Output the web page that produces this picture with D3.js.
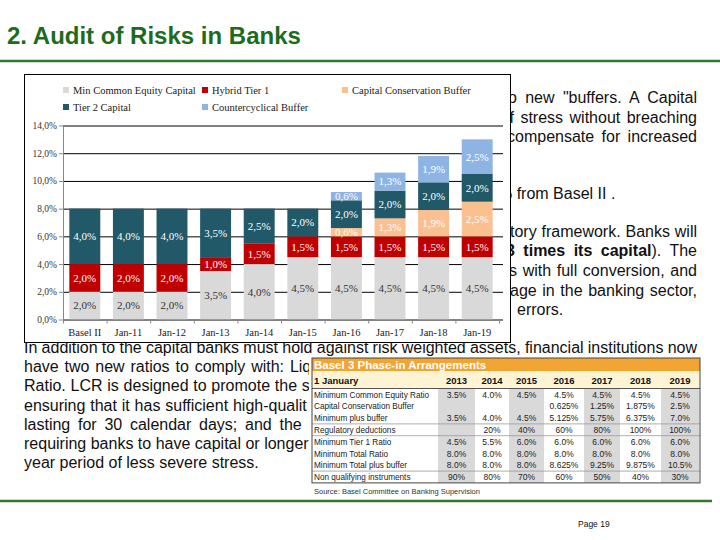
<!DOCTYPE html>
<html><head><meta charset="utf-8">
<script src="https://cdn.jsdelivr.net/npm/d3@7"></script>
<style>body{margin:0;background:#fff} svg{display:block} text{white-space:pre}</style>
</head><body>
<svg id="c" width="720" height="540"></svg>
<script>
// ---------- chart data ----------
const categories = ["Basel II","Jan-11","Jan-12","Jan-13","Jan-14","Jan-15","Jan-16","Jan-17","Jan-18","Jan-19"];
const minCommonEquity       = [2.0,2.0,2.0,3.5,4.0,4.5,4.5,4.5,4.5,4.5];
const hybridTier1           = [2.0,2.0,2.0,1.0,1.5,1.5,1.5,1.5,1.5,1.5];
const conservationBuffer    = [0,0,0,0,0,0,0.6,1.3,1.9,2.5];
const tier2Capital          = [4.0,4.0,4.0,3.5,2.5,2.0,2.0,2.0,2.0,2.0];
const countercyclicalBuffer = [0,0,0,0,0,0,0.6,1.3,1.9,2.5];
const seriesNames = ["Min Common Equity Capital","Hybrid Tier 1","Capital Conservation Buffer","Tier 2 Capital","Countercyclical Buffer"];
const seriesColors = ["#d9d9d9","#c00000","#fac090","#215968","#8eb4e3"];
const yTicks = [0,2,4,6,8,10,12,14];

// ---------- table data ----------
const tableTitle = "Basel 3 Phase-in Arrangements";
const tableHeader = "1 January";
const tableYears = ["2013","2014","2015","2016","2017","2018","2019"];
const rowLabels = ["Minimum Common Equity Ratio","Capital Conservation Buffer","Minimum plus buffer","Regulatory deductions","Minimum Tier 1 Ratio","Minimum Total Ratio","Minimum Total plus buffer","Non qualifying instruments"];
const minCommonEquityRatio      = ["3.5%","4.0%","4.5%","4.5%","4.5%","4.5%","4.5%"];
const capitalConservationBuffer = ["","","","0.625%","1.25%","1.875%","2.5%"];
const minimumPlusBuffer         = ["3.5%","4.0%","4.5%","5.125%","5.75%","6.375%","7.0%"];
const regulatoryDeductions      = ["","20%","40%","60%","80%","100%","100%"];
const minimumTier1Ratio         = ["4.5%","5.5%","6.0%","6.0%","6.0%","6.0%","6.0%"];
const minimumTotalRatio         = ["8.0%","8.0%","8.0%","8.0%","8.0%","8.0%","8.0%"];
const minimumTotalPlusBuffer    = ["8.0%","8.0%","8.0%","8.625%","9.25%","9.875%","10.5%"];
const nonQualifyingInstruments  = ["90%","80%","70%","60%","50%","40%","30%"];
const tableSource = "Source: Basel Committee on Banking Supervision";

// ---------- slide text (visible parts) ----------
const pageTitle = "2. Audit of Risks in Banks";
const pageNumber = "Page 19";
const upperText = [
  [['o new "buffers. A Capital']],
  [['f stress without breaching']],
  [['compensate for increased']],
  [['% from Basel II .']],
  [['tory framework. Banks will']],
  [['3 times its capital',1],['). The']],
  [['s with full conversion, and']],
  [['age in the banking sector,']],
  [['errors.']]
];
const lowerText = [
  "In addition to the capital banks must hold against risk weighted assets, financial institutions now",
  "have two new ratios to comply with: Liq",
  "Ratio. LCR is designed to promote the s",
  "ensuring that it has sufficient high-qualit",
  "lasting for 30 calendar days; and the",
  "requiring banks to have capital or longer",
  "year period of less severe stress."
];

const svg = d3.select("#c");
const SANS = "'Liberation Sans', Arial, sans-serif";
const SERIF = "'Liberation Serif', 'Times New Roman', serif";

const defs = svg.append("defs");
defs.append("clipPath").attr("id","clipLeft").append("rect").attr("x",0).attr("y",0).attr("width",309).attr("height",540);
defs.append("clipPath").attr("id","clipRight").append("rect").attr("x",511).attr("y",0).attr("width",209).attr("height",540);

// header
svg.append("text").attr("x",7).attr("y",44).text(pageTitle)
  .attr("font-family",SANS).attr("font-weight","bold").attr("font-size",24).attr("fill","#1d6b1d");
svg.append("line").attr("x1",0).attr("x2",720).attr("y1",61).attr("y2",61).attr("stroke","#2f7a2f").attr("stroke-width",2.5);

// body text
function drawLine(parent, parts, x, y, right, ws) {
  const t = parent.append("text").attr("x",x).attr("y",y)
    .attr("font-family",SANS).attr("font-size",16).attr("fill","#111");
  parts.forEach(p => t.append("tspan").attr("font-weight", p[1] ? "bold" : null).text(p[0]));
  if (right != null) {
    const L = t.node().getComputedTextLength();
    const n = parts.map(p=>p[0]).join("").split(" ").length - 1;
    if (n > 0) t.attr("word-spacing", (right - x - L) / n);
  } else if (ws) t.attr("word-spacing", ws);
}
const upperG = svg.append("g").attr("clip-path","url(#clipRight)");
const upperPos = [[508,103,697],[509.5,123,697],[507,142,697],[498,199,null],[510,237,697],[506,256,697],[509,276,697],[510,296,697],[517,315,null]];
upperText.forEach((parts,i)=>drawLine(upperG, parts, upperPos[i][0], upperPos[i][1], upperPos[i][2]));
const lowerY = [353,372,391,411,430,449,468];
const lowerWs = [null,1.4,0.3,0.4,3.3,0,0];
const lowerG0 = svg.append("g");
const lowerG = svg.append("g").attr("clip-path","url(#clipLeft)");
lowerText.forEach((s,i)=>drawLine(i===0 ? lowerG0 : lowerG, [[s]], 24, lowerY[i], i===0 ? 697 : null, lowerWs[i]));

// ---------- chart ----------
svg.append("rect").attr("x",24.5).attr("y",74.5).attr("width",486).attr("height",268)
  .attr("fill","#fff").attr("stroke","#000").attr("stroke-width",1);

const x = d3.scaleBand().domain(categories).range([63,499]).paddingInner(0.29).paddingOuter(0.145);
const y = d3.scaleLinear().domain([0,14]).range([319.5,125.5]);
const g = svg.append("g");

// gridlines
const grid = g.append("g").attr("transform","translate(63,0)")
  .call(d3.axisLeft(y).tickValues(yTicks).tickSize(-440).tickFormat(""));
grid.select(".domain").remove();
grid.selectAll("line").attr("stroke","#000").attr("stroke-width",1);

// stacked bars
const rows = categories.map((c,i)=>({cat:c, s0:minCommonEquity[i], s1:hybridTier1[i], s2:conservationBuffer[i], s3:tier2Capital[i], s4:countercyclicalBuffer[i]}));
const keys = ["s0","s1","s2","s3","s4"];
const stacked = d3.stack().keys(keys)(rows);
stacked.forEach((layer,k)=>{
  const lg = g.append("g");
  layer.forEach(d=>{
    const v = d[1]-d[0];
    if (v <= 0) return;
    lg.append("rect").attr("x",x(d.data.cat)).attr("width",x.bandwidth())
      .attr("y",y(d[1])).attr("height",y(d[0])-y(d[1])).attr("fill",seriesColors[k]);
    lg.append("text").attr("x",x(d.data.cat)+x.bandwidth()/2).attr("y",(y(d[0])+y(d[1]))/2)
      .attr("dy","0.35em").attr("text-anchor","middle")
      .attr("font-family",SERIF).attr("font-size",11)
      .attr("fill", k===0 ? "#333" : "#fff")
      .text(v.toFixed(1).replace(".",",")+"%");
  });
});

// y axis
const ya = g.append("g").attr("transform","translate(63,0)")
  .call(d3.axisLeft(y).tickValues(yTicks).tickSize(4).tickSizeOuter(0).tickPadding(2)
    .tickFormat(d=>d.toFixed(1).replace(".",",")+"%"));
ya.select(".domain").attr("stroke","#888");
ya.selectAll("line").attr("stroke","#888");
ya.selectAll("text").attr("font-family",SERIF).attr("font-size",9.5).attr("fill","#333");

// x axis ticks at category boundaries
const xb = d3.scaleLinear().domain([0,categories.length]).range([63,499]);
const xt = g.append("g").attr("transform","translate(0,319.5)")
  .call(d3.axisBottom(xb).tickValues(d3.range(0,categories.length+1)).tickSize(4).tickSizeOuter(0).tickFormat(""));
xt.select(".domain").attr("stroke","#888");
xt.selectAll("line").attr("stroke","#888");
const xa = g.append("g").attr("transform","translate(0,319.5)")
  .call(d3.axisBottom(x).tickSize(0).tickPadding(9));
xa.select(".domain").remove();
xa.selectAll("text").attr("font-family",SERIF).attr("font-size",10.5).attr("fill","#222");

// legend
const legendPos = [[63,90],[202,90],[342,90],[63,107],[202,107]];
seriesNames.forEach((n,i)=>{
  const [lx,ly] = legendPos[i];
  g.append("rect").attr("x",lx).attr("y",ly-3).attr("width",6).attr("height",6).attr("fill",seriesColors[i]);
  g.append("text").attr("x",lx+10).attr("y",ly).attr("dy","0.35em").text(n)
    .attr("font-family",SERIF).attr("font-size",10.5).attr("fill","#222");
});

// ---------- table ----------
svg.append("rect").attr("x",309).attr("y",356).attr("width",411).attr("height",142).attr("fill","#fff");
const tb = svg.append("g");
const tX0 = 312, tX1 = 700, tTop = 358, hdrBottom = 371, yearsBottom = 388.5, rowH = 11.8;
const colEdges = [437,476,508,545,583,621,660,700];
const tableData = [minCommonEquityRatio,capitalConservationBuffer,minimumPlusBuffer,regulatoryDeductions,minimumTier1Ratio,minimumTotalRatio,minimumTotalPlusBuffer,nonQualifyingInstruments];
const tBottom = yearsBottom + rowH*tableData.length;

tb.append("rect").attr("x",tX0).attr("y",tTop).attr("width",tX1-tX0).attr("height",hdrBottom-tTop).attr("fill","#f2a532");
tb.append("text").attr("x",tX0+2).attr("y",hdrBottom-2.5).text(tableTitle)
  .attr("font-family",SANS).attr("font-weight","bold").attr("font-size",11.5).attr("fill","#fff");
tb.append("rect").attr("x",tX0).attr("y",hdrBottom).attr("width",tX1-tX0).attr("height",yearsBottom-hdrBottom).attr("fill","#fef3d2");
[0,2,4,6].forEach(c=>{
  tb.append("rect").attr("x",colEdges[c]+1).attr("y",yearsBottom).attr("width",colEdges[c+1]-colEdges[c]-2)
    .attr("height",tBottom-yearsBottom).attr("fill","#d9d9d9");
});
tb.append("text").attr("x",tX0+2).attr("y",yearsBottom-5).text(tableHeader)
  .attr("font-family",SANS).attr("font-weight","bold").attr("font-size",9.5).attr("fill","#111");
tableYears.forEach((yr,c)=>{
  tb.append("text").attr("x",(colEdges[c]+colEdges[c+1])/2).attr("y",yearsBottom-5).attr("text-anchor","middle").text(yr)
    .attr("font-family",SANS).attr("font-weight","bold").attr("font-size",9.5).attr("fill","#111");
});
tb.append("line").attr("x1",tX0).attr("x2",tX1).attr("y1",yearsBottom).attr("y2",yearsBottom).attr("stroke","#555").attr("stroke-width",1);
tableData.forEach((vals,r)=>{
  const cy = yearsBottom + rowH*r + rowH/2 + 3.1;
  tb.append("text").attr("x",tX0+2).attr("y",cy).text(rowLabels[r])
    .attr("font-family",SANS).attr("font-size",8.2).attr("fill","#222");
  vals.forEach((v,c)=>{
    tb.append("text").attr("x",(colEdges[c]+colEdges[c+1])/2).attr("y",cy).attr("text-anchor","middle").text(v)
      .attr("font-family",SANS).attr("font-size",8.5).attr("fill","#222");
  });
});
[3,4,7].forEach(r=>{
  const yy = yearsBottom + rowH*r;
  tb.append("line").attr("x1",tX0).attr("x2",tX1).attr("y1",yy).attr("y2",yy).attr("stroke","#999").attr("stroke-width",0.8);
});
tb.append("rect").attr("x",tX0).attr("y",tTop).attr("width",tX1-tX0).attr("height",tBottom-tTop)
  .attr("fill","none").attr("stroke","#444").attr("stroke-width",1);
tb.append("text").attr("x",tX0+2).attr("y",494).text(tableSource)
  .attr("font-family",SANS).attr("font-size",7.5).attr("fill","#333");

// footer
svg.append("line").attr("x1",0).attr("x2",712).attr("y1",501).attr("y2",501).attr("stroke","#2f7a2f").attr("stroke-width",2.5);
svg.append("text").attr("x",578).attr("y",527).text(pageNumber)
  .attr("font-family",SANS).attr("font-size",8.5).attr("fill","#111");
</script>
</body></html>
